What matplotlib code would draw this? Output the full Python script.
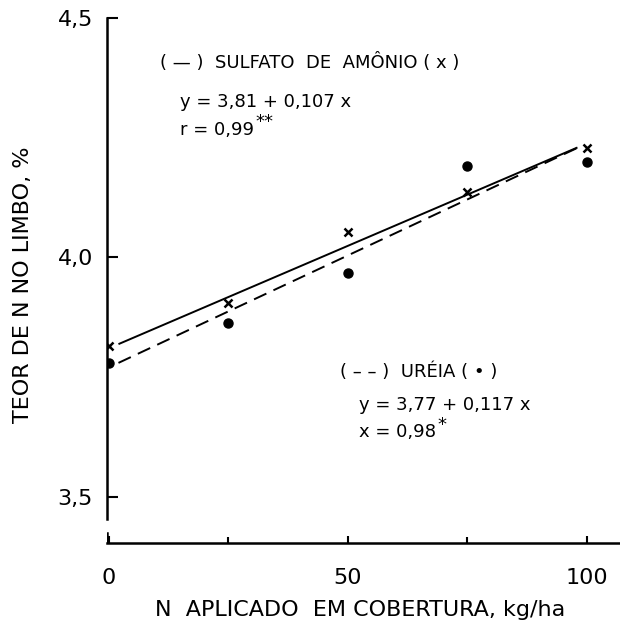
import matplotlib
matplotlib.use("Agg")
import matplotlib.pyplot as plt
import numpy as np

# ---- data ----
doses = [0, 25, 50, 75, 100]                      # N aplicado, kg/ha
sulfato = [3.815, 3.905, 4.053, 4.136, 4.229]     # (x) sulfato de amônio
ureia = [3.780, 3.863, 3.967, 4.191, 4.199]       # (●) uréia
# regression y = a + b*X, X = dose/25
sulf_a, sulf_b = 3.81, 0.107
ureia_a, ureia_b = 3.77, 0.117
line_range = [2, 98]
x_ticks = [0, 50, 100]
x_minor = [25, 75]
y_ticks = [3.5, 4.0, 4.5]
y_ticklabels = ["3,5", "4,0", "4,5"]

W, H = 620, 629
fig = plt.figure(figsize=(W / 100, H / 100), dpi=100)
plt.rcParams['font.family'] = ['DejaVu Sans']

def px(x, y):
    return x / W, 1 - y / H

left, bottom = 107 / W, 1 - 543 / H
top = 1 - 18 / H
ax = fig.add_axes([left, bottom, 1 - left, top - bottom])
ax.set_xlim(-0.4, 106.9)
ax.set_ylim(3.403, 4.5)

xl = np.array(line_range, dtype=float)
ax.plot(xl, sulf_a + sulf_b * xl / 25, color='black', lw=1.4, solid_capstyle='butt')
ax.plot(xl, ureia_a + ureia_b * xl / 25, color='black', lw=1.4, dashes=(7, 4))
ax.plot(doses, sulfato, linestyle='none', marker='x', color='black', ms=6, mew=1.8)
ax.plot(doses, ureia, linestyle='none', marker='o', color='black', ms=6.5)

for s in ['top', 'right']:
    ax.spines[s].set_visible(False)
ax.spines['left'].set_bounds(3.453, 4.5)
ax.spines['left'].set_linewidth(1.8)
ax.spines['bottom'].set_linewidth(1.8)
ax.axvline(ax.get_xlim()[0], ymin=0, ymax=0.019, color='black', lw=1.8)

ax.set_xticks(x_ticks)
ax.set_xticklabels([str(v) for v in x_ticks])
ax.set_xticks(x_minor, minor=True)
ax.set_yticks(y_ticks)
ax.set_yticklabels(y_ticklabels)
ax.tick_params(axis='y', direction='in', length=8, width=1.5, labelsize=16, pad=10)
ax.tick_params(axis='x', which='major', direction='in', length=5, width=1.5, labelsize=16, pad=18)
ax.tick_params(axis='x', which='minor', direction='in', length=4, width=1.5)

fig.text(*px(360, 610), "N  APLICADO  EM COBERTURA, kg/ha", fontsize=16,
         ha='center', va='center')
fig.text(*px(23, 285), "TEOR DE N NO LIMBO, %", fontsize=16, rotation=90,
         ha='center', va='center')

tk = dict(fontsize=13, ha='left', va='center')
fig.text(*px(160, 63), "( — )  SULFATO  DE  AMÔNIO ( x )", **tk)
fig.text(*px(180, 102), "y = 3,81 + 0,107 x", **tk)
fig.text(*px(180, 130), "r = 0,99", **tk)
fig.text(*px(255, 127), "**", fontsize=13, ha='left', va='baseline')
fig.text(*px(340, 372), "( – – )  URÉIA ( • )", **tk)
fig.text(*px(359, 405), "y = 3,77 + 0,117 x", **tk)
fig.text(*px(359, 432), "x = 0,98", **tk)
fig.text(*px(437, 430), "*", fontsize=13, ha='left', va='baseline')

fig.savefig("out.png", dpi=100)
